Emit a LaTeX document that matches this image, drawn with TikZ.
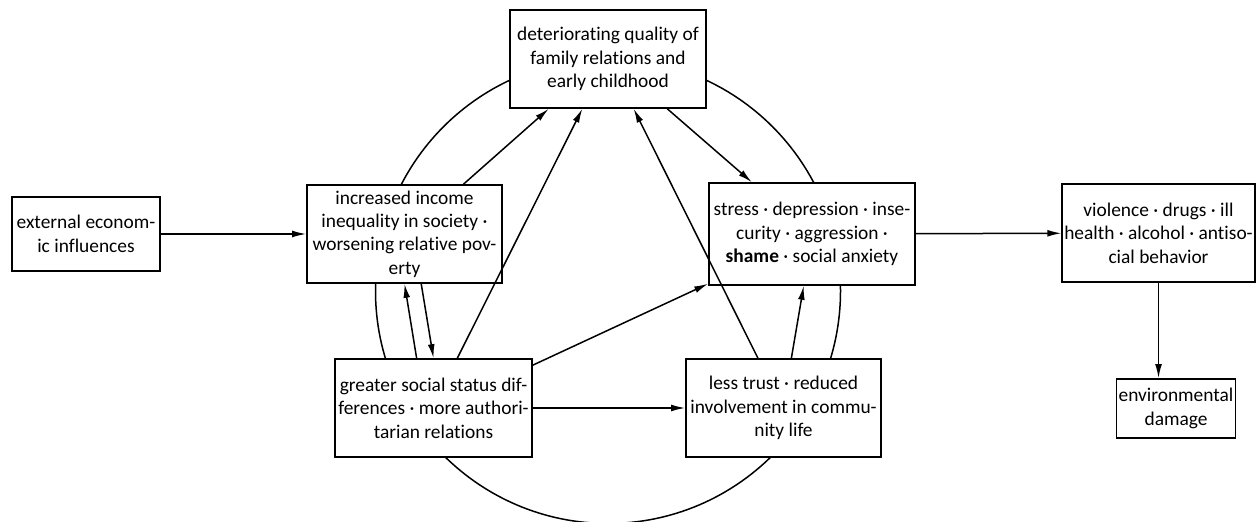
\documentclass[tikz,border=0pt]{standalone}
\usepackage{fontspec}
\setmainfont{Carlito}[Ligatures={CommonOff,RareOff}]
\usepackage{tikz}
\usetikzlibrary{arrows.meta,calc}
\tikzset{
	box/.style={draw,black,fill=white,line width=.8pt,align=center,inner sep=1pt,font=\fontsize{9.7pt}{11.7pt}\selectfont},
	edge/.style={draw,black,line width=.75pt,-{Latex[length=7pt,width=3.4pt]}},
	ring/.style={draw,black,line width=.75pt}
}

\begin{document}
\begin{tikzpicture}[x = {(0.5pt,0pt)},
                    y = {(0pt,-0.5pt)}]

\useasboundingbox (0,0) rectangle (1258,522);

\coordinate (hub) at (608,291);
\draw[ring] (hub) circle [radius=116.25pt];

\node[box,minimum width=74pt,minimum height=37pt] (ext) at (86,234) {external econom-\\ic influences};
\node[box,minimum width=97.5pt,minimum height=49pt] (inc) at (404.5,234) {increased income\\inequality in society ·\\worsening relative pov-\\erty};
\node[box,minimum width=98pt,minimum height=49pt] (fam) at (608,59) {deteriorating quality of\\family relations and\\early childhood};
\node[box,minimum width=103pt,minimum height=51pt] (str) at (812,234) {stress · depression · inse-\\curity · aggression ·\\\textbf{shame} · social anxiety};
\node[box,minimum width=95.5pt,minimum height=49pt] (vio) at (1158.5,233) {violence · drugs · ill\\health · alcohol · antiso-\\cial behavior};
\node[box,minimum width=98.5pt,minimum height=49pt] (grt) at (433.5,408) {greater social status dif-\\ferences · more authori-\\tarian relations};
\node[box,minimum width=97.5pt,minimum height=49pt] (les) at (783.5,408) {less trust · reduced\\involvement in commu-\\nity life};
\node[box,minimum width=43pt,minimum height=29.5pt] (env) at (1176,408.5) {environmental\\damage};

% outer chain
\draw[edge] (ext) -- (inc);
\draw[edge] (str) -- (vio);
\draw[edge] (vio) -- (vio |- env.north);

% links round the ring
\draw[edge] ($(inc.north west)!.80!(inc.north east)$) -- ($(fam.south west)!.20!(fam.south east)$);
\draw[edge] ($(grt.north west)!.62!(grt.north east)$) -- ($(fam.south west)!.37!(fam.south east)$);
\draw[edge] ($(les.north west)!.37!(les.north east)$) -- ($(fam.south west)!.63!(fam.south east)$);
\draw[edge] ($(fam.south west)!.80!(fam.south east)$) -- ($(str.north west)!.21!(str.north east)$);
\draw[edge] ($(inc.south west)!.585!(inc.south east)$) -- ($(grt.north west)!.50!(grt.north east)$);
\draw[edge] ($(grt.north west)!.415!(grt.north east)$) -- ($(inc.south west)!.50!(inc.south east)$);
\draw[edge] ($(grt.north east)!.07!(grt.south east)$) -- ($(str.north west)!.98!(str.south west)$);
\draw[edge] ($(les.north west)!.54!(les.north east)$) -- ($(str.south west)!.46!(str.south east)$);
\draw[edge] (grt) -- (les);

\end{tikzpicture}
\end{document}
